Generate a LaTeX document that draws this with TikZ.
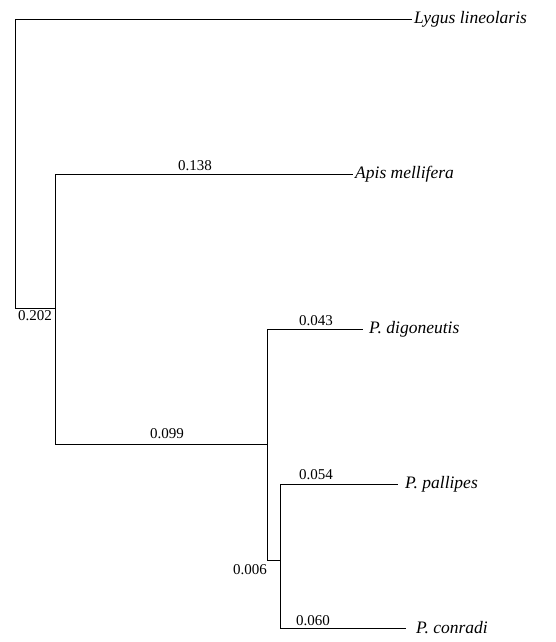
\documentclass[tikz,border=0pt]{standalone}
\usepackage{fontspec}
\setmainfont{Liberation Serif}
\usetikzlibrary{positioning}

\begin{document}
\begin{tikzpicture}[
    x=1pt, y=-1pt,
    branch/.style={draw, line width=0.9pt},
    taxon/.style={anchor=west, inner sep=2pt, font=\fontsize{17.5}{17.5}\selectfont\itshape},
    blen/.style={inner sep=1pt, font=\fontsize{15}{15}\selectfont},
]
\useasboundingbox (0,0) rectangle (555,642);
% internal nodes
\coordinate (n1) at (15,163);
\coordinate (n2) at (55,308);
\coordinate (n3) at (267,444);
\coordinate (n4) at (280,560);
% taxa
\node[taxon] (lygus) at (412,19) {Lygus lineolaris};
\node[taxon] (apis) at (353,174) {Apis mellifera};
\node[taxon] (digo) at (367,329) {P. digoneutis};
\node[taxon] (pall) at (403,484) {P. pallipes};
\node[taxon] (conr) at (414,628) {P. conradi};
% branches
\draw[branch] (n1) |- (lygus);
\draw[branch] (n1) |- (n2);
\draw[branch] (n2) |- (apis);
\draw[branch] (n2) |- (n3);
\draw[branch, shorten >=4pt] (n3) |- (digo);
\draw[branch] (n3) |- (n4);
\draw[branch, shorten >=5pt] (n4) |- (pall);
\draw[branch, shorten >=8pt] (n4) |- (conr);
% branch lengths
\node[blen] (l202) at (35,316) {0.202};
\node[blen] (l138) at (195,166) {0.138};
\node[blen] (l099) at (167,434) {0.099};
\node[blen] (l043) at (316,321) {0.043};
\node[blen] (l054) at (316,475) {0.054};
\node[blen] (l060) at (313,621) {0.060};
\node[blen] (l006) at (250,570) {0.006};
\end{tikzpicture}
\end{document}
